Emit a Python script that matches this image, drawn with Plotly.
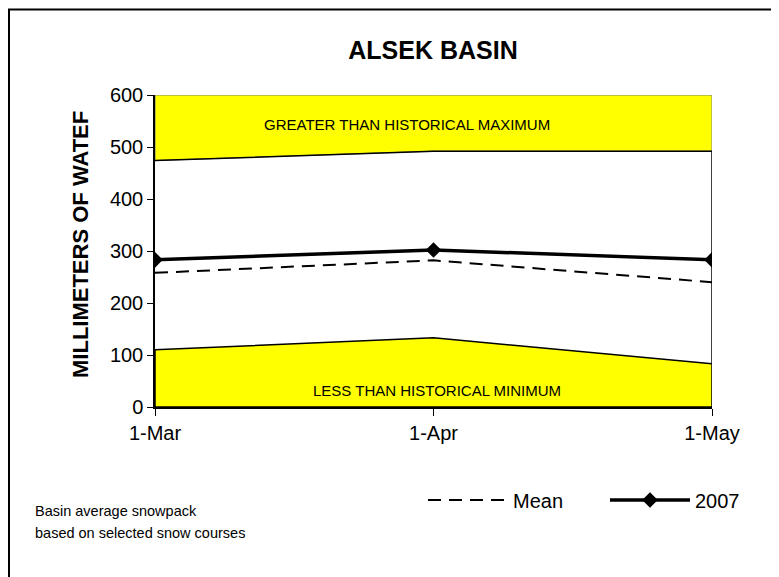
import plotly.graph_objects as go

categories = ["1-Mar", "1-Apr", "1-May"]
hist_max = [474, 492, 492]
hist_min = [110, 133, 83]
mean_vals = [258, 282, 240]
y2007 = [283, 302, 283]
y_top = 600
xs = list(range(len(categories)))

# plot area in page pixels (reference): x 155..712, y 95..407 ; page offset 8px
PX0, PX1, PY0, PY1 = 155, 712, 95, 407
PW, PH = PX1 - PX0, PY1 - PY0
OFF = 8
W, H = 771, 569


def px(xp):
    return (xp - PX0) / PW


def py(yp):
    return (PY1 - yp) / PH


fig = go.Figure()

fig.add_trace(go.Scatter(
    x=xs + xs[::-1] + [xs[0]],
    y=hist_max + [y_top] * len(xs) + [hist_max[0]],
    fill="toself", fillcolor="#FFFF00", mode="lines",
    line=dict(color="#808080", width=1), showlegend=False, hoverinfo="skip"))
fig.add_trace(go.Scatter(
    x=xs, y=hist_max, mode="lines", line=dict(color="black", width=1.5),
    showlegend=False, hoverinfo="skip"))
fig.add_trace(go.Scatter(
    x=xs + xs[::-1] + [xs[0]],
    y=hist_min + [0] * len(xs) + [hist_min[0]],
    fill="toself", fillcolor="#FFFF00", mode="lines",
    line=dict(color="black", width=1.5), showlegend=False, hoverinfo="skip"))
fig.add_trace(go.Scatter(
    x=[xs[-1], xs[-1]], y=[hist_max[-1], hist_min[-1]], mode="lines",
    line=dict(color="black", width=1.5), showlegend=False, hoverinfo="skip"))

fig.add_trace(go.Scatter(
    x=xs, y=mean_vals, mode="lines", name="Mean",
    line=dict(color="black", width=2, dash="13px,8px")))
fig.add_trace(go.Scatter(
    x=xs, y=y2007, mode="lines+markers", name="2007",
    line=dict(color="black", width=3.5),
    marker=dict(symbol="diamond", size=12, color="black")))

fig.update_layout(
    width=W, height=H,
    margin=dict(l=PX0 - OFF, r=W - PX1 + OFF, t=PY0 - OFF, b=H - PY1 + OFF,
                autoexpand=False),
    paper_bgcolor="white", plot_bgcolor="white",
    font=dict(family="Liberation Sans, Arial, sans-serif", color="black", size=20),
    title=dict(text="<b>ALSEK BASIN</b>", x=(433 - OFF) / W, xanchor="center",
               y=1 - (50 - OFF) / H, yanchor="middle", font=dict(size=25)),
    xaxis=dict(range=[0, 2], tickvals=xs, ticktext=categories,
               showline=True, linecolor="black", linewidth=1.5,
               ticks="outside", ticklen=7, tickcolor="black",
               showgrid=False, zeroline=False, tickfont=dict(size=20)),
    yaxis=dict(range=[0, 600], dtick=100, showline=True, linecolor="black",
               linewidth=1.5, ticks="outside", ticklen=6, tickcolor="black",
               showgrid=False, zeroline=False, tickfont=dict(size=20)),
    legend=dict(orientation="h", x=px(423), y=py(500), xanchor="left", yanchor="middle",
                itemwidth=80, entrywidth=87, font=dict(size=20),
                bgcolor="rgba(0,0,0,0)"),
    showlegend=True,
)

fig.add_annotation(text="<b>MILLIMETERS OF WATEF</b>", x=px(80), y=py(245),
                   xref="paper", yref="paper", xanchor="center", yanchor="middle",
                   textangle=-90, showarrow=False, font=dict(size=22))
fig.add_annotation(text="GREATER THAN HISTORICAL MAXIMUM", x=px(407), y=py(124),
                   xref="paper", yref="paper", xanchor="center", yanchor="middle",
                   showarrow=False, font=dict(size=15))
fig.add_annotation(text="LESS THAN HISTORICAL MINIMUM", x=px(437), y=py(390),
                   xref="paper", yref="paper", xanchor="center", yanchor="middle",
                   showarrow=False, font=dict(size=15))
fig.add_annotation(text="Basin average snowpack", x=px(33), y=py(511),
                   xref="paper", yref="paper", xanchor="left", yanchor="middle",
                   showarrow=False, font=dict(size=14.5))
fig.add_annotation(text="based on selected snow courses", x=px(33), y=py(533),
                   xref="paper", yref="paper", xanchor="left", yanchor="middle",
                   showarrow=False, font=dict(size=14.5))

fig.add_shape(type="rect", xref="paper", yref="paper",
              x0=px(9), x1=px(776), y0=py(600), y1=py(9.5),
              line=dict(color="black", width=2))

fig.write_html("out.html")
